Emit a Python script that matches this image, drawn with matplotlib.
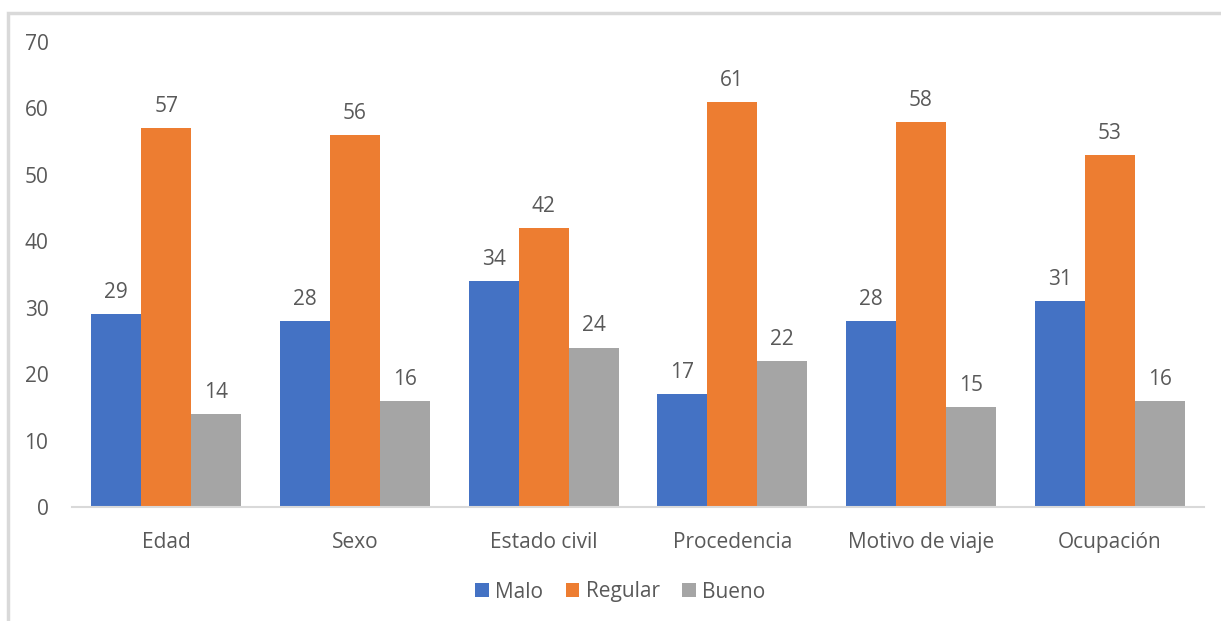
import matplotlib.pyplot as plt
from matplotlib.patches import Rectangle
import numpy as np

categories = ["Edad", "Sexo", "Estado civil", "Procedencia", "Motivo de viaje", "Ocupación"]
malo = [29, 28, 34, 17, 28, 31]
regular = [57, 56, 42, 61, 58, 53]
bueno = [14, 16, 24, 22, 15, 16]

series = [("Malo", malo, "#4472C4"), ("Regular", regular, "#ED7D31"), ("Bueno", bueno, "#A5A5A5")]

plt.rcParams["font.family"] = ["Open Sans", "DejaVu Sans"]
text_color = "#595959"
fs = 15

fig = plt.figure(figsize=(12.21, 6.21), dpi=100)
ax = fig.add_axes([0.059, 0.1836, 0.927, 0.7487])

# light chart border, cut off at right and bottom
fig.patches.append(Rectangle((8 / 1221, -0.1), 1.2, 1 - 13 / 621 + 0.1,
                             transform=fig.transFigure, fill=False,
                             edgecolor="#d9d9d9", linewidth=2.5))

x = np.arange(len(categories))
width = 0.265
for i, (name, vals, color) in enumerate(series):
    pos = x + (i - 1) * width
    bars = ax.bar(pos, vals, width, color=color, label=name)
    for b, v in zip(bars, vals):
        ax.annotate(str(v), (b.get_x() + b.get_width() / 2, v),
                    xytext=(0, 8), textcoords="offset points",
                    ha="center", va="bottom", fontsize=fs, color=text_color)

ax.set_xlim(-0.5, len(categories) - 0.5)
ax.set_ylim(0, 70)
ax.set_yticks(range(0, 71, 10))
ax.set_xticks(x)
ax.set_xticklabels(categories)
ax.tick_params(axis="both", length=0, labelsize=fs, labelcolor=text_color)
ax.tick_params(axis="x", pad=18)
ax.tick_params(axis="y", pad=17)

for side in ["top", "right", "left"]:
    ax.spines[side].set_visible(False)
ax.spines["bottom"].set_color("#d9d9d9")
ax.spines["bottom"].set_linewidth(1.5)

fig.legend(loc="center", bbox_to_anchor=(0.508, 1 - 592 / 621), ncol=3,
           frameon=False, fontsize=fs, handlelength=0.65, handleheight=0.65,
           handletextpad=0.3, columnspacing=1.1, labelcolor=text_color)

fig.savefig("out.png", dpi=100)
